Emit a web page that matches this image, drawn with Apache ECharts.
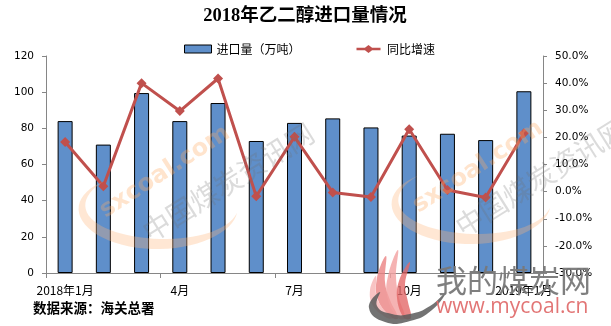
<!DOCTYPE html>
<html>
<head>
<meta charset="utf-8">
<script src="https://cdn.jsdelivr.net/npm/echarts@6/dist/echarts.min.js"></script>
<style>html,body{margin:0;padding:0;background:#fff}#c{width:611px;height:326px}</style>
</head>
<body>
<div id="c"></div>
<script>
var categories = ['2018年1月','2月','3月','4月','5月','6月','7月','8月','9月','10月','11月','12月','2019年1月'];
var importVolume = [84, 71, 99.5, 84, 94, 73, 83, 85.5, 80.5, 76, 77, 73.5, 100.5];
var yoyGrowth = [18.3, 2.0, 40.0, 29.7, 41.7, -1.7, 20.2, -0.3, -2.0, 23.0, 0.6, -2.2, 21.5];
var leftTicks = {min: 0, max: 120, interval: 20};
var rightTicks = {min: -30, max: 50, interval: 10};

var chart = echarts.init(document.getElementById('c'), null, {renderer: 'canvas'});
var FONT = 'Noto Sans CJK SC';
var AX = '#868686';

// crescent-shaped decorative arc (watermark)
function crescentPoints(cx, cy, rx, ry, t0, t1, maxW) {
  var outer = [], inner = [], n = 40;
  for (var i = 0; i <= n; i++) {
    var t = t0 + (t1 - t0) * i / n;
    var w = maxW * Math.sin(Math.PI * i / n);
    var c = Math.cos(t), s = Math.sin(t);
    outer.push([cx + (rx + w / 2) * c, cy + (ry + w / 2) * s]);
    inner.unshift([cx + (rx - w / 2) * c, cy + (ry - w / 2) * s]);
  }
  return outer.concat(inner);
}

function watermark(dx, dy) {
  return [
    {type: 'polygon', z: 50, silent: true,
     shape: {points: crescentPoints(160 + dx, 207 + dy, 78, 37, Math.PI * 0.05, Math.PI * 1.25, 11)},
     style: {fill: 'rgba(255,180,120,0.32)'}},
    {type: 'text', z: 50, silent: true, x: 165 + dx, y: 172 + dy, rotation: 33 * Math.PI / 180,
     style: {text: 'sxcoal.com', fill: 'rgba(255,170,100,0.32)', font: 'bold 24px "DejaVu Sans"', align: 'center', verticalAlign: 'middle'}},
    {type: 'text', z: 50, silent: true, x: 228 + dx, y: 182 + dy, rotation: 32 * Math.PI / 180,
     style: {text: '中国煤炭资讯网', fill: 'rgba(110,110,110,0.25)', font: '28px "Noto Sans CJK SC"', align: 'center', verticalAlign: 'middle'}}
  ];
}

var graphics = [].concat(watermark(0, 0), watermark(313, -5), [
  {type: 'polygon', z: 60, silent: true, shape: {smooth: 0.4, points: [[392,318],[378,300],[377,278],[386,256],[385,282],[390,300],[398,318]]}, style: {fill: 'rgba(235,130,130,0.8)'}},
  {type: 'polygon', z: 60, silent: true, shape: {smooth: 0.4, points: [[398,318],[387,296],[389,272],[398,250],[396,276],[399,298],[405,318]]}, style: {fill: 'rgba(242,160,160,0.8)'}},
  {type: 'polygon', z: 60, silent: true, shape: {smooth: 0.4, points: [[404,318],[397,298],[400,278],[410,262],[405,284],[408,302],[411,318]]}, style: {fill: 'rgba(228,105,105,0.8)'}},
  {type: 'polygon', z: 60, silent: true, shape: {smooth: 0.4, points: [[387,318],[373,306],[370,290],[376,276],[376,294],[381,306],[392,318]]}, style: {fill: 'rgba(246,180,180,0.8)'}},
  {type: 'polygon', z: 60, silent: true, shape: {smooth: 0.5, points: [[380,292],[369,308],[385,322],[410,321],[432,310],[446,292],[430,306],[410,314],[392,314],[377,306]]}, style: {fill: 'rgba(90,90,90,0.85)'}},
  {type: 'text', z: 61, silent: true, x: 436, y: 280, style: {text: '我的煤炭网', fill: 'rgba(120,120,120,0.95)', font: '31px "Noto Sans CJK SC"', align: 'left', verticalAlign: 'middle'}},
  {type: 'text', z: 61, silent: true, x: 436, y: 307, style: {text: 'www.mycoal.cn', fill: 'rgba(224,110,110,0.95)', font: '21px "Open Sans"', align: 'left', verticalAlign: 'middle'}},
  {type: 'text', z: 10, silent: true, x: 33, y: 308, style: {text: '数据来源：海关总署', fill: '#000', font: 'bold 13.5px "Noto Sans CJK SC"', align: 'left', verticalAlign: 'middle'}}
]);

chart.setOption({
  animation: false,
  backgroundColor: '#fff',
  title: {
    text: '2018年乙二醇进口量情况', left: 300, top: 2, textAlign: 'center',
    textStyle: {fontFamily: '"Liberation Serif", "Noto Sans CJK SC"', fontSize: 18.5, fontWeight: 'bold', color: '#000'}
  },
  legend: {
    left: 179, top: 38, itemWidth: 27, itemHeight: 8, itemGap: 56,
    textStyle: {fontFamily: FONT, fontSize: 12, color: '#000'},
    data: [
      {name: '进口量（万吨）', icon: 'rect', itemStyle: {color: '#5f8fca', borderColor: '#000', borderWidth: 1}},
      {name: '同比增速', icon: 'path://M0,3L9.5,3L13.5,0L17.5,3L27,3L27,6L17.5,6L13.5,9L9.5,6L0,6Z',
       itemStyle: {color: '#c0504d', borderWidth: 0}}
    ]
  },
  grid: {left: 46, right: 68, top: 56, bottom: 53, containLabel: false},
  xAxis: {
    type: 'category', data: categories, boundaryGap: true,
    axisLine: {lineStyle: {color: AX, width: 1}},
    axisTick: {show: true, interval: 2, length: 5, lineStyle: {color: AX}},
    axisLabel: {interval: 2, margin: 11, fontFamily: FONT, fontSize: 12, color: '#000'}
  },
  yAxis: [
    {type: 'value', min: leftTicks.min, max: leftTicks.max, interval: leftTicks.interval,
     splitLine: {show: false},
     axisLine: {show: true, lineStyle: {color: AX}},
     axisTick: {show: true, length: 4, lineStyle: {color: AX}},
     axisLabel: {margin: 12, fontFamily: 'DejaVu Sans', fontSize: 10.5, color: '#000'}},
    {type: 'value', min: rightTicks.min, max: rightTicks.max, interval: rightTicks.interval, position: 'right',
     splitLine: {show: false},
     axisLine: {show: true, lineStyle: {color: AX}},
     axisTick: {show: true, length: 4, lineStyle: {color: AX}},
     axisLabel: {margin: 12, fontFamily: 'DejaVu Sans', fontSize: 10.5, color: '#000',
       formatter: function (v) { return v.toFixed(1) + '%'; }}}
  ],
  series: [
    {name: '进口量（万吨）', type: 'bar', data: importVolume, barWidth: 15, yAxisIndex: 0, z: 2,
     itemStyle: {color: '#5f8fca', borderColor: '#000', borderWidth: 1}},
    {name: '同比增速', type: 'line', data: yoyGrowth, yAxisIndex: 1, z: 3,
     symbol: 'diamond', symbolSize: 10, showSymbol: true,
     lineStyle: {color: '#c0504d', width: 3},
     itemStyle: {color: '#c0504d'}}
  ],
  graphic: graphics
});
</script>
</body>
</html>
